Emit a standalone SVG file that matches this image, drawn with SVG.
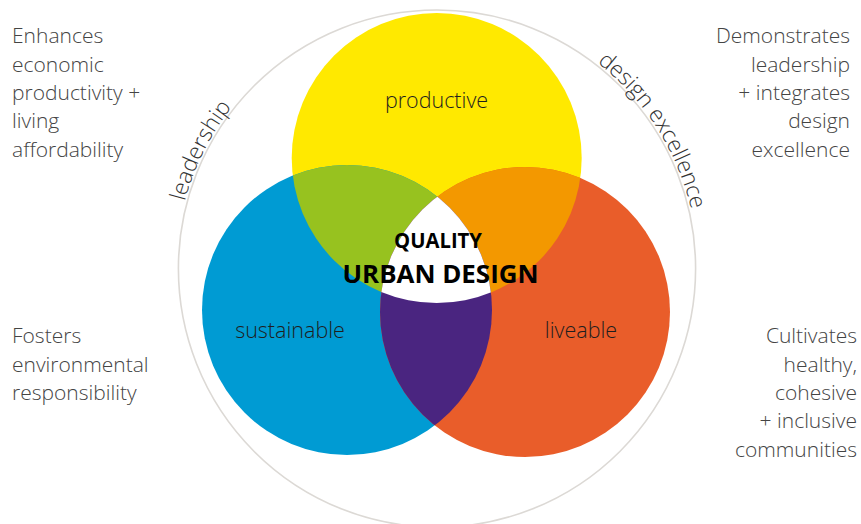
<svg xmlns="http://www.w3.org/2000/svg" xmlns:xlink="http://www.w3.org/1999/xlink" width="861" height="524" viewBox="0 0 861 524">
  <style>
    .side { font-family: "Open Sans", "Liberation Sans", sans-serif; font-weight: 300; font-size: 21px; fill: #444444; }
    .right { text-anchor: end; }
    .label { font-family: "Open Sans", "Liberation Sans", sans-serif; font-weight: 300; font-size: 21.5px; fill: #1e1e1e; text-anchor: middle; }
    .arc { font-family: "Open Sans", "Liberation Sans", sans-serif; font-weight: 300; font-size: 22.5px; fill: #333333; text-anchor: middle; }
    .title { font-family: "Open Sans", "Liberation Sans", sans-serif; font-weight: 700; fill: #000; }
  </style>
  <defs>
    <clipPath id="clipY"><circle cx="436.7" cy="158" r="145"/></clipPath>
    <clipPath id="clipB"><circle cx="347" cy="310" r="145"/></clipPath>
    <clipPath id="clipO"><circle cx="525" cy="312" r="145"/></clipPath>
    <!-- upper half of a circle just outside the ring, run clockwise from the left -->
    <path id="ringArc" d="M 176,268.6 A 261 261 0 0 1 698,268.6"/>
  </defs>
  <rect width="861" height="524" fill="#ffffff"/>

  <!-- outer ring with its curved captions -->
  <g id="ring">
    <circle cx="437" cy="268.6" r="258.6" fill="none" stroke="#dcd9d5" stroke-width="1.6"/>
    <text class="arc"><textPath xlink:href="#ringArc" href="#ringArc" startOffset="121">leadership</textPath></text>
    <text class="arc"><textPath xlink:href="#ringArc" href="#ringArc" startOffset="671">design excellence</textPath></text>
  </g>

  <!-- the three circles -->
  <g id="productive">
    <circle cx="436.7" cy="158" r="145" fill="#ffe900"/>
  </g>
  <g id="sustainable">
    <circle cx="347" cy="310" r="145" fill="#009bd3"/>
  </g>
  <g id="liveable">
    <circle cx="525" cy="312" r="145" fill="#e95d2a"/>
  </g>

  <!-- pairwise overlaps and the shared centre -->
  <g id="overlaps">
    <circle cx="347" cy="310" r="145" fill="#97c21f" clip-path="url(#clipY)"/>
    <circle cx="525" cy="312" r="145" fill="#f39800" clip-path="url(#clipY)"/>
    <circle cx="525" cy="312" r="145" fill="#4a2580" clip-path="url(#clipB)"/>
    <g clip-path="url(#clipB)">
      <circle cx="525" cy="312" r="145" fill="#ffffff" clip-path="url(#clipY)"/>
    </g>
  </g>

  <!-- circle labels -->
  <g id="labels">
    <text class="label" x="436.5" y="108">productive</text>
    <text class="label" x="290" y="338">sustainable</text>
    <text class="label" x="581" y="338">liveable</text>
  </g>

  <g id="centre">
    <text class="title" x="438" y="248.3" font-size="21" text-anchor="middle" textLength="88" lengthAdjust="spacingAndGlyphs">QUALITY</text>
    <text class="title" x="440.5" y="282.7" font-size="25" text-anchor="middle" textLength="196" lengthAdjust="spacingAndGlyphs">URBAN DESIGN</text>
  </g>

  <!-- corner descriptions -->
  <g id="note-productive">
    <text class="side" x="12" y="43.3">Enhances</text>
    <text class="side" x="12" y="71.7">economic</text>
    <text class="side" x="12" y="100">productivity +</text>
    <text class="side" x="12" y="128.3">living</text>
    <text class="side" x="12" y="156.7">affordability</text>
  </g>
  <g id="note-sustainable">
    <text class="side" x="12" y="343.3">Fosters</text>
    <text class="side" x="12" y="371.7">environmental</text>
    <text class="side" x="12" y="400">responsibility</text>
  </g>
  <g id="note-design">
    <text class="side right" x="850" y="43.3">Demonstrates</text>
    <text class="side right" x="850" y="71.7">leadership</text>
    <text class="side right" x="850" y="100">+ integrates</text>
    <text class="side right" x="850" y="128.3">design</text>
    <text class="side right" x="850" y="156.7">excellence</text>
  </g>
  <g id="note-liveable">
    <text class="side right" x="857" y="343.3">Cultivates</text>
    <text class="side right" x="857" y="371.7">healthy,</text>
    <text class="side right" x="857" y="400">cohesive</text>
    <text class="side right" x="857" y="428.3">+ inclusive</text>
    <text class="side right" x="857" y="456.7">communities</text>
  </g>

  <g id="connectors"/>
</svg>
